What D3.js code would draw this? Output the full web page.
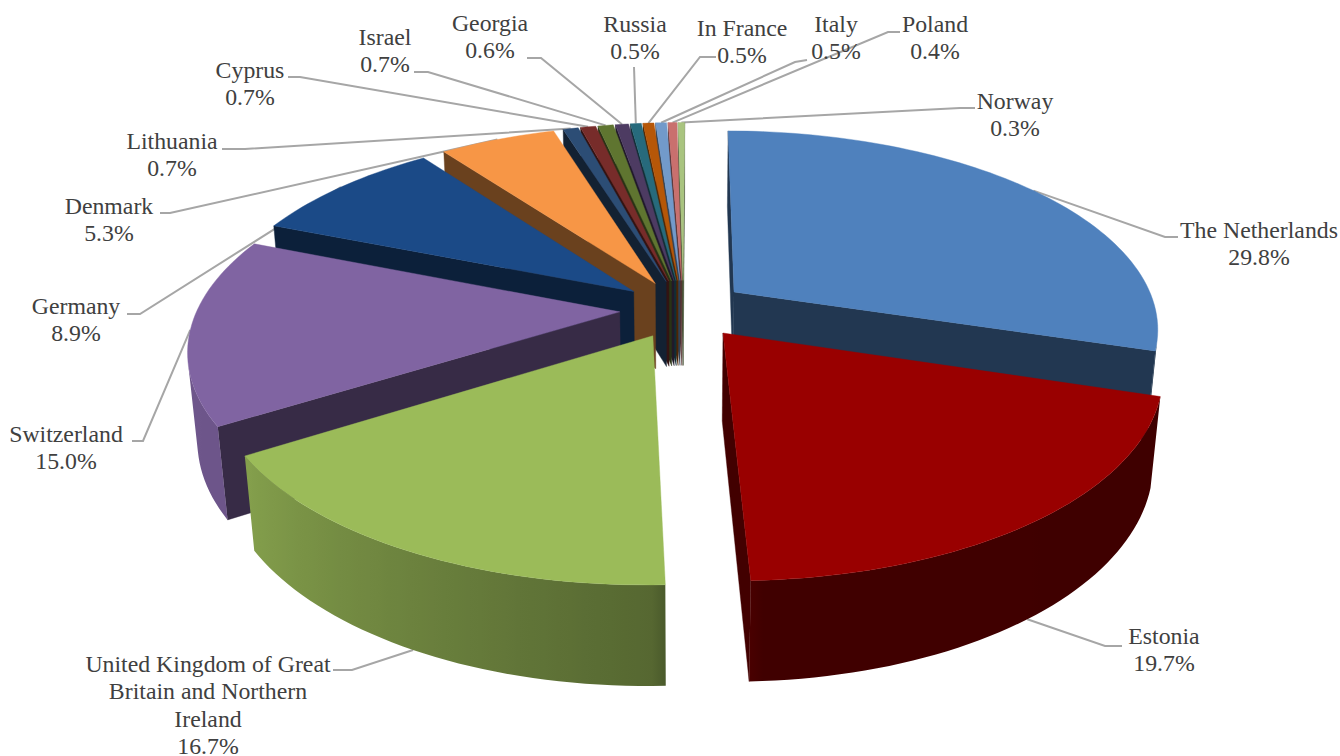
<!DOCTYPE html>
<html>
<head>
<meta charset="utf-8">
<script src="https://d3js.org/d3.v7.min.js"></script>
<style>
html,body{margin:0;padding:0;background:#fff;overflow:hidden}
svg{display:block}
text{font-family:"Liberation Serif","Times New Roman",serif;font-size:23.8px;fill:#404040;text-anchor:middle}
</style>
</head>
<body>
<svg id="chart" width="1340" height="756"></svg>
<script>
// ---- data ----
const categories = ["The Netherlands","Estonia","United Kingdom of Great|Britain and Northern|Ireland","Switzerland","Germany","Denmark","Lithuania","Cyprus","Israel","Georgia","Russia","In France","Italy","Poland","Norway"];
const values = [29.8,19.7,16.7,15.0,8.9,5.3,0.7,0.7,0.7,0.6,0.5,0.5,0.5,0.4,0.3];
// ---- styles ----
const topColors = ["#4f81bd","#990000","#9bbb59","#8064a2","#1b4a87","#f79646","#2c4d75","#772c2a","#5f7530","#4d3b62","#276a7c","#b65708","#729aca","#c9706e","#a9c47f"];
// ---- label layout ----
const labelX = [1259,1164,208,66,76,109,172,250,385,490,635,742,836,935,1015];
const labelY = [238,644,672,442,314,214,149,78,45,31,32,36,32,32,109];
const leadStartX = [1178,1122,333,132,127,160,222,288,414,527,634,716,807,900,975];
const leadStartY = [237,646,670,441,314,213,149,77,72,58,67,57,60,32,108];
const leadElbowX = [1165,1105,352,143,140,170,245,300,428,541,634,700,795,888,960];
const leadElbowY = [237,646,670,441,314,213,149,77,72,58,67,57,62,32,108];

// ---- perspective camera: plane point (x,z) in pie radii, h = 0 top / 1 bottom ----
const explode = 0.151;
const rotation = 0.25*Math.PI/180;
const depthAt = d3.scaleLinear().domain([0,6.3]).range([35.9,42.2]);
const yNum = d3.scaleLinear().domain([0,1]).range([39872,43820]);
const project = (x,z,h) => {
  const w = depthAt(z*6.3) + 0.7*h;
  return [683.4 + 15160*x/w, -801.5 + yNum(h)/w];
};
const rimShade = d3.scaleLinear().domain([107,177,179,238,292,360]).range([0.41,0.42,0.55,0.85,0.88,0.88]).clamp(true);
const wallShade = 0.43;
const shade = (c,f) => { const r = d3.rgb(c); return d3.rgb(r.r*f,r.g*f,r.b*f).formatHex(); };

const svg = d3.select("#chart");
const defs = svg.append("defs");
const pie = d3.pie().sort(null).value(d=>d).startAngle(rotation).endAngle(2*Math.PI+rotation);
const slices = pie(values).map((d,i)=>{
  const mid = (d.startAngle+d.endAngle)/2;
  return {i, a0:d.startAngle, a1:d.endAngle, mid, ox:explode*Math.sin(mid), oz:explode*Math.cos(mid)};
});
const pt = (s,a,h,r=1) => project(s.ox+r*Math.sin(a), s.oz+r*Math.cos(a), h);
const line = d3.line();

// ---- leader lines (beneath the pie) ----
svg.append("g").selectAll("path").data(slices).join("path")
  .attr("fill","none").attr("stroke","#a6a6a6").attr("stroke-width",2)
  .attr("d",s=>{
    const anchor = pt(s,s.mid,Math.cos(s.mid)<-0.5?1:0);
    return line([[leadStartX[s.i],leadStartY[s.i]],[leadElbowX[s.i],leadElbowY[s.i]],anchor]);
  });

// ---- pie: back to front ----
const order = slices.slice().sort((a,b)=>Math.cos(b.mid)-Math.cos(a.mid));
const pieG = svg.append("g");
order.forEach(s=>{
  const g = pieG.append("g");
  const col = topColors[s.i];
  const wall = shade(col,wallShade);
  const n = Math.max(2,Math.ceil((s.a1-s.a0)/(Math.PI/120)));
  const angles = d3.range(n+1).map(k=>s.a0+(s.a1-s.a0)*k/n);

  // radial walls, drawn only when facing the camera
  [[pt(s,0,0,0),pt(s,s.a0,0),pt(s,s.a0,1),pt(s,0,1,0)],
   [pt(s,s.a1,0),pt(s,0,0,0),pt(s,0,1,0),pt(s,s.a1,1)]]
    .filter(p=>d3.polygonArea(p)>0)
    .forEach(p=>g.append("path").attr("d",line(p)+"Z").attr("fill",wall).attr("stroke",wall).attr("stroke-width",0.4));

  // outer rim: the camera-facing arc as one polygon with a horizontal shading gradient
  const vis = d3.pairs(angles).filter(([a,b])=>d3.polygonArea([pt(s,a,0),pt(s,b,0),pt(s,b,1),pt(s,a,1)])>0);
  if(vis.length){
    const arc = [vis[0][0]].concat(vis.map(v=>v[1]));
    const poly = arc.map(a=>pt(s,a,0)).concat(arc.slice().reverse().map(a=>pt(s,a,1)));
    const stopsData = arc.map(a=>({x:pt(s,a,0.5)[0],c:shade(col,rimShade(a*180/Math.PI))}))
      .sort((p,q)=>p.x-q.x);
    const x0=stopsData[0].x, x1=stopsData[stopsData.length-1].x;
    const off=d3.scaleLinear().domain([x0,x1]).range([0,1]);
    const id="rim"+s.i;
    defs.append("linearGradient").attr("id",id).attr("gradientUnits","userSpaceOnUse")
      .attr("x1",x0).attr("x2",x1).attr("y1",0).attr("y2",0)
      .selectAll("stop").data(stopsData).join("stop")
      .attr("offset",d=>off(d.x)).attr("stop-color",d=>d.c);
    g.append("path").attr("d",line(poly)+"Z").attr("fill",`url(#${id})`);
  }

  const topPts = [pt(s,0,0,0)].concat(angles.map(a=>pt(s,a,0)));
  g.append("path").attr("d",line(topPts)+"Z").attr("fill",col).attr("stroke",col).attr("stroke-width",0.4);
});

// ---- labels ----
const fmt = d3.format(".1f");
const lab = svg.append("g").selectAll("text").data(slices).join("text")
  .attr("x",s=>labelX[s.i]).attr("y",s=>labelY[s.i]);
lab.each(function(s){
  const t = d3.select(this);
  const lines = categories[s.i].split("|").concat([fmt(values[s.i])+"%"]);
  lines.forEach((l,k)=>t.append("tspan").attr("x",labelX[s.i]).attr("dy",k?27.3:0).text(l));
});
</script>
</body>
</html>
